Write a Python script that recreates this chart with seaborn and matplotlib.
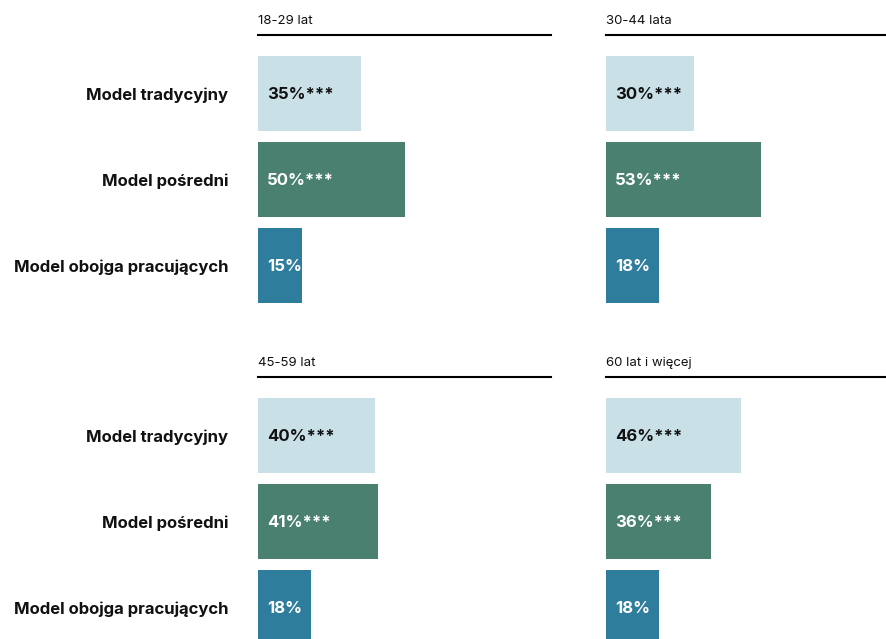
import matplotlib
matplotlib.use("Agg")
import matplotlib.pyplot as plt
import pandas as pd
import seaborn as sns

# dane
modele = ["Model tradycyjny", "Model pośredni", "Model obojga pracujących"]
grupy = ["18-29 lat", "30-44 lata", "45-59 lat", "60 lat i więcej"]
wartosci = {
    "18-29 lat": [35, 50, 15],
    "30-44 lata": [30, 53, 18],
    "45-59 lat": [40, 41, 18],
    "60 lat i więcej": [46, 36, 18],
}
gwiazdki = ["***", "***", ""]
kolory = ["#c8e0e6", "#4a8070", "#2e7d9d"]
kolory_tekstu = ["#111111", "white", "white"]

sns.set_style("white")
plt.rcParams["font.family"] = ["Inter", "DejaVu Sans"]

W, H = 886, 639
fig = plt.figure(figsize=(W / 100, H / 100), dpi=100)

# pozycje paneli w pikselach (lewo, góra)
pozycje = [(258, 35), (606, 35), (258, 377), (606, 377)]
szer = 293
wys = 273.5

for i, grupa in enumerate(grupy):
    x0, y0 = pozycje[i]
    ax = fig.add_axes([x0 / W, 1 - (y0 + wys) / H, szer / W, wys / H])
    df = pd.DataFrame({"model": modele, "wartosc": wartosci[grupa]})
    sns.barplot(data=df, x="wartosc", y="model", hue="model", palette=kolory,
                order=modele, hue_order=modele, width=0.87, legend=False,
                saturation=1, linewidth=0, ax=ax)
    ax.set_xlim(0, 100)
    ax.set_ylim(2.5, -0.68)
    ax.set_xlabel("")
    ax.set_ylabel("")
    ax.set_xticks([])
    for s in ["right", "bottom", "left"]:
        ax.spines[s].set_visible(False)
    ax.spines["top"].set_linewidth(1.5)
    ax.spines["top"].set_color("black")
    ax.set_title(grupa, loc="left", fontsize=9.5, pad=8, color="#111111")
    if i % 2 == 0:
        ax.tick_params(axis="y", length=0, pad=21.6)
        for t in ax.get_yticklabels():
            t.set_fontweight("bold")
            t.set_fontsize(12)
            t.set_color("#111111")
    else:
        ax.set_yticklabels([])
        ax.tick_params(axis="y", length=0)
    for j, v in enumerate(wartosci[grupa]):
        ax.annotate(f"{v}%{gwiazdki[j]}", xy=(0, j), xytext=(6.5, -1),
                    textcoords="offset points", ha="left", va="center",
                    fontsize=12, fontweight="bold", color=kolory_tekstu[j])

fig.savefig("out.png", dpi=100)
